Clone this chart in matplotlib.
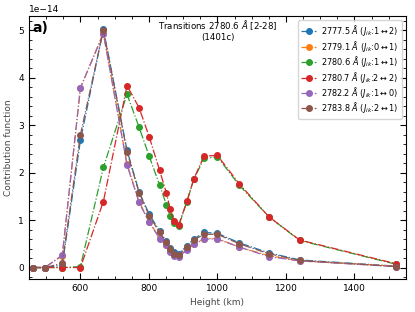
import matplotlib
matplotlib.use('Agg')
import matplotlib.pyplot as plt
from matplotlib.ticker import MultipleLocator

# alturas (km) y funciones de contribucion (x1e-14)
altura = [462, 496, 547, 600, 667, 736, 771, 801, 831, 851, 862, 872, 887,
          911, 931, 961, 1000, 1064, 1150, 1240, 1521]

cf_27775 = [0, 0, 0.05, 2.68, 5.02, 2.47, 1.60, 1.12, 0.77, 0.55, 0.42, 0.33, 0.29,
            0.46, 0.60, 0.74, 0.72, 0.52, 0.31, 0.16, 0.03]
cf_27791 = [0, 0, 0.25, 3.78, 4.95, 2.18, 1.39, 0.96, 0.63, 0.47, 0.34, 0.27, 0.24,
            0.38, 0.50, 0.61, 0.61, 0.43, 0.25, 0.14, 0.03]
cf_27806 = [0, 0, 0, 0.02, 2.11, 3.65, 2.96, 2.34, 1.74, 1.32, 1.08, 0.93, 0.88,
            1.39, 1.86, 2.30, 2.33, 1.73, 1.07, 0.57, 0.07]
cf_27807 = [0, 0, 0, 0, 1.39, 3.83, 3.37, 2.75, 2.05, 1.57, 1.23, 0.98, 0.90,
            1.40, 1.87, 2.35, 2.36, 1.76, 1.07, 0.58, 0.08]
cf_27822 = [0, 0, 0.26, 3.79, 4.92, 2.16, 1.37, 0.95, 0.61, 0.47, 0.33, 0.25, 0.23,
            0.37, 0.49, 0.60, 0.60, 0.43, 0.23, 0.14, 0.02]
cf_27838 = [0, 0, 0.09, 2.80, 5.00, 2.44, 1.58, 1.09, 0.74, 0.53, 0.39, 0.28, 0.27,
            0.43, 0.58, 0.70, 0.70, 0.50, 0.29, 0.15, 0.02]

series = [cf_27775, cf_27791, cf_27806, cf_27807, cf_27822, cf_27838]
etiquetas = [r'2777.5 $\AA$ ($J_{ik}$:1$\leftrightarrow$2)',
             r'2779.1 $\AA$ ($J_{ik}$:0$\leftrightarrow$1)',
             r'2780.6 $\AA$ ($J_{ik}$:1$\leftrightarrow$1)',
             r'2780.7 $\AA$ ($J_{ik}$:2$\leftrightarrow$2)',
             r'2782.2 $\AA$ ($J_{ik}$:1$\leftrightarrow$0)',
             r'2783.8 $\AA$ ($J_{ik}$:2$\leftrightarrow$1)']

fig = plt.figure(figsize=(4.15, 3.12), dpi=100)
ax = fig.add_axes([0.07, 0.106, 0.908, 0.843])

for valores, etiqueta in zip(series, etiquetas):
    ax.plot(altura, [v * 1e-14 for v in valores], '-.', marker='o', markersize=4,
            linewidth=0.9, label=etiqueta)

ax.set_xlim(450, 1550)
ax.set_ylim(-0.24e-14, 5.3e-14)
ax.xaxis.set_major_locator(MultipleLocator(200))
ax.xaxis.set_minor_locator(MultipleLocator(50))
ax.yaxis.set_major_locator(MultipleLocator(1e-14))
ax.yaxis.set_minor_locator(MultipleLocator(0.2e-14))
ax.tick_params(which='both', direction='in', top=True, right=True, labelsize=6.5)
ax.tick_params(which='major', length=4)
ax.tick_params(which='minor', length=2)
ax.yaxis.get_offset_text().set_fontsize(6.5)

ax.set_xlabel('Height (km)', fontsize=6.5, color='#444444')
ax.set_ylabel('Contribution function', fontsize=6.5, color='#444444')

ax.text(0.5, 0.99, 'Transitions 2780.6 $\\AA$ [2-28]\n(1401c)', transform=ax.transAxes,
        ha='center', va='top', fontsize=6.2, linespacing=1.1)
ax.text(0.01, 0.98, 'a)', transform=ax.transAxes, ha='left', va='top',
        fontsize=10, fontweight='bold')

ax.legend(loc='upper right', fontsize=5.9, handlelength=1.8, handletextpad=0.6,
          labelspacing=0.05)

fig.savefig('out.png')
